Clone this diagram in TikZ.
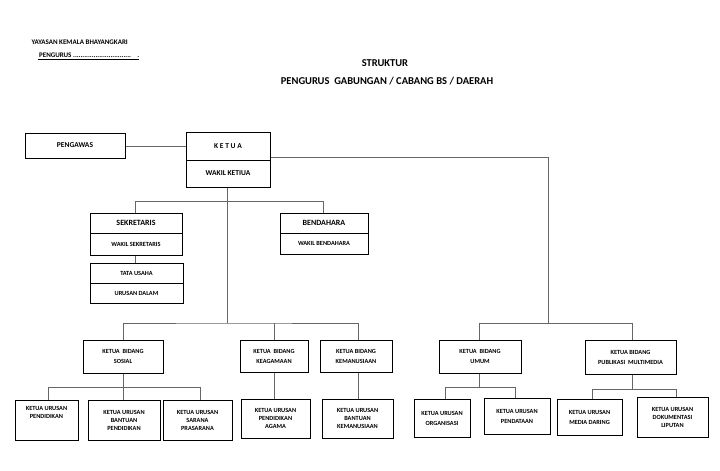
\documentclass[tikz,border=0pt]{standalone}
\usepackage{fontspec}
\setmainfont{Carlito}
\begin{document}
\begin{tikzpicture}[x=1pt,y=-1pt,
  bx/.style={draw=black,line width=1pt,fill=white,align=center,font=\bfseries\fontsize{6.3}{8}\selectfont,inner sep=1pt},
  conn/.style={draw=black!60,line width=0.8pt}]
\useasboundingbox (0,0) rectangle (720,471);
\node[anchor=west,font=\bfseries\fontsize{7}{8}\selectfont] (h1) at (28,42) {YAYASAN KEMALA BHAYANGKARI};
\node[anchor=west,font=\bfseries\fontsize{7}{8}\selectfont] (h2) at (34,56) {\underline{\ PENGURUS ...............................\ \ \ \ .}};
\node[font=\bfseries\fontsize{10.5}{12}\selectfont] (t1) at (385,63) {STRUKTUR};
\node[font=\bfseries\fontsize{10.5}{12}\selectfont] (t2) at (387,81) {PENGURUS\ \ GABUNGAN / CABANG BS / DAERAH};
% macro for box by corners
\newcommand{\bxn}[6][]{\node[bx,#1,minimum width=#4-#2,minimum height=#5-#3] (#6) at ({(#2+#4)/2},{(#3+#5)/2})}
% connectors first
\coordinate (r1) at (548,157);
\coordinate (r2) at (548,323);
\draw[conn] (125,146) -- (186,146);
\draw[conn] (270,157) -- (r1) -- (r2);
\draw[conn] (227,187) -- (227,323);
\draw[conn] (135,213) |- (323,201) -- (323,213);
\draw[conn] (135,255) -- (135,263);
\draw[conn] (123,340) |- (227,323) -| (358,340);
\draw[conn] (274,323) -- (274,340);
\draw[conn] (123,373) -- (123,387);
\draw[conn] (48,400) |- (200,387) -- (200,400);
\draw[conn] (123,387) -- (123,400);
\draw[conn] (274,372) -- (274,399);
\draw[conn] (358,372) -- (358,399);
\draw[conn] (479,340) |- (632,323) -- (632,340);
\draw[conn] (479,373) -- (479,387);
\draw[conn] (445,399) |- (515,387) -- (515,398);
\draw[conn] (632,374) -- (632,389);
\draw[conn] (592,399) |- (676,389) -- (676,397);
% boxes
\bxn[font=\bfseries\fontsize{7.5}{9}\selectfont]{25}{133}{125}{158}{peng} {PENGAWAS};
\bxn[font=\bfseries\fontsize{7.5}{9}\selectfont]{186}{132}{270}{160}{ketua} {K E T U A};
\bxn[font=\bfseries\fontsize{7.5}{9}\selectfont]{186}{160}{270}{187}{wk} {WAKIL KETIUA};
\bxn[font=\bfseries\fontsize{8}{9}\selectfont]{90}{213}{182}{233}{sek} {SEKRETARIS};
\bxn{90}{233}{182}{255}{wsek} {WAKIL SEKRETARIS};
\bxn{90}{263}{183}{283}{tu} {TATA USAHA};
\bxn{90}{283}{183}{303}{ud} {URUSAN DALAM};
\bxn[font=\bfseries\fontsize{8}{9}\selectfont]{280}{213}{368}{233}{ben} {BENDAHARA};
\bxn{280}{233}{368}{254}{wben} {WAKIL BENDAHARA};
\bxn{83}{340}{163}{373}{sos} {KETUA\ \ BIDANG\\[2pt]SOSIAL};
\bxn{240}{340}{308}{372}{kea} {KETUA\ \ BIDANG\\[2pt]KEAGAMAAN};
\bxn{320}{340}{392}{372}{kem} {KETUA BIDANG\\[2pt]KEMANUSIAAN};
\bxn{15}{400}{78}{440}{l1} {KETUA URUSAN\\PENDIDIKAN\\[7pt]};
\bxn{88}{400}{160}{440}{l2} {KETUA URUSAN\\BANTUAN\\PENDIDIKAN};
\bxn{163}{400}{232}{440}{l3} {KETUA URUSAN\\SARANA\\PRASARANA};
\bxn{241}{399}{310}{438}{l4} {KETUA URUSAN\\PENDIDIKAN\\AGAMA};
\bxn{322}{399}{393}{438}{l5} {KETUA URUSAN\\BANTUAN\\KEMANUSIAAN};
\bxn{439}{340}{521}{373}{umum} {KETUA\ \ BIDANG\\[2pt]UMUM};
\bxn{585}{340}{676}{374}{pub} {KETUA BIDANG\\[2pt]PUBLIKASI\ \ MULTIMEDIA};
\bxn{414}{399}{470}{437}{l6} {KETUA URUSAN\\[2pt]ORGANISASI};
\bxn{484}{398}{550}{434}{l7} {KETUA URUSAN\\[2pt]PENDATAAN};
\bxn{557}{399}{622}{435}{l8} {KETUA URUSAN\\[2pt]MEDIA DARING};
\bxn{637}{397}{708}{437}{l9} {KETUA URUSAN\\DOKUMENTASI\\LIPUTAN};
\end{tikzpicture}
\end{document}
